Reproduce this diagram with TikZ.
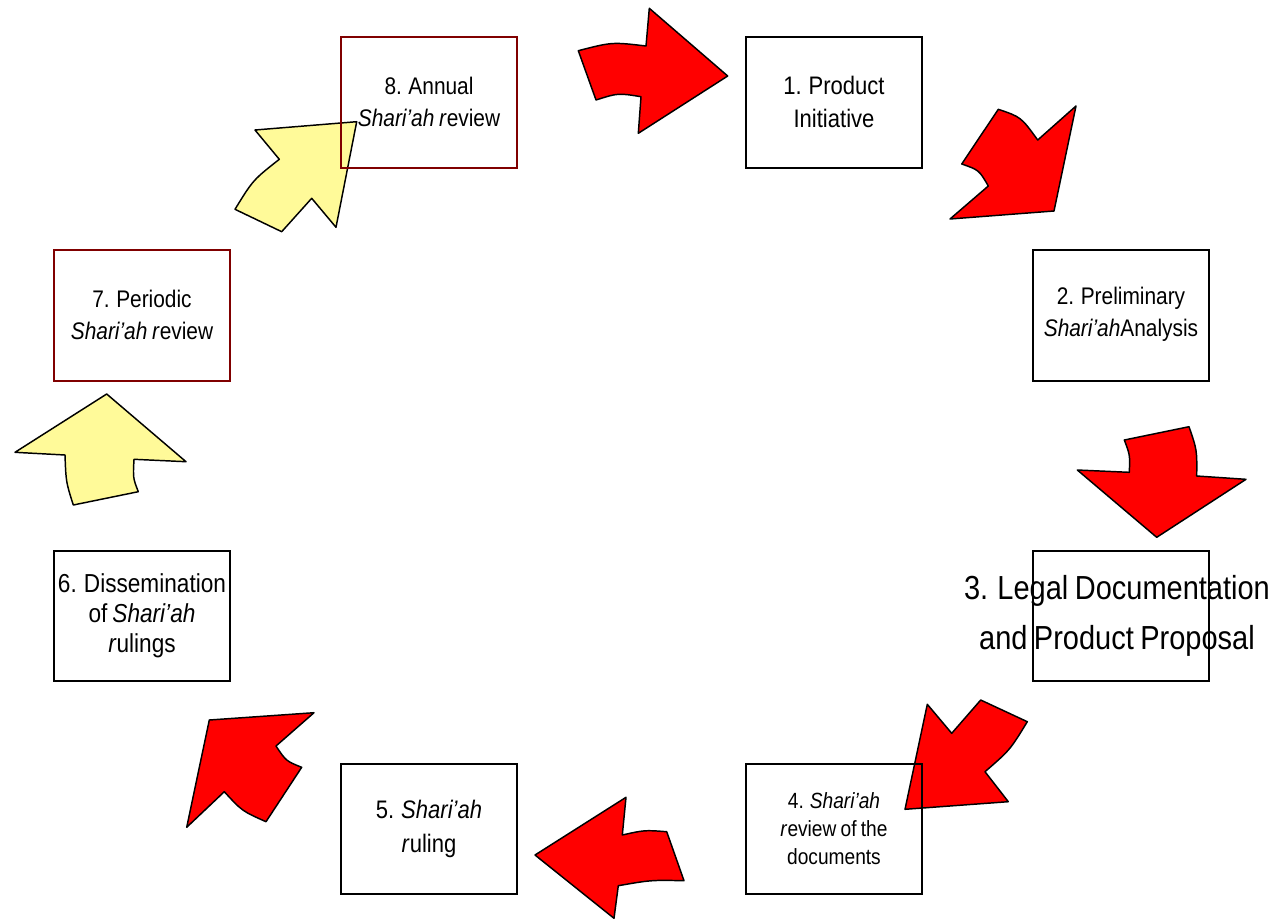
\documentclass[tikz,border=0pt]{standalone}
\usepackage{fontspec}
\setmainfont{Liberation Sans}[FakeStretch=0.87,WordSpace=0.8]
\begin{document}
\begin{tikzpicture}[x=0.75pt,y=-0.75pt,
  stepbox/.style={draw=black,line width=1pt},
  redbox/.style={draw=red!50!black,line width=1pt},
  txt/.style={align=center,font=\fontsize{18}{24}\selectfont,inner sep=0pt},
  redarrow/.style={fill=red,draw=black,line width=1.1pt,line join=round},
  yelarrow/.style={fill=yellow!40,draw=black,line width=1.1pt,line join=round}]
\useasboundingbox (0,0) rectangle (1281,921);
% arrows
% A: 8 -> 1
\draw[redarrow] (578.3,50.7) .. controls (612,42) .. (646,46) -- (649.3,8.3) -- (727.7,76)
  -- (638.3,133.3) -- (641,96.7) .. controls (618,93) .. (596,100) -- cycle;
% B: 1 -> 2
\draw[redarrow] (998.3,109.3) .. controls (1021,117) .. (1037.7,140) -- (1076,106)
  -- (1054,211) -- (950,219) -- (988.3,186) .. controls (979,170) .. (961.7,164) -- cycle;
% C: 2 -> 3
\draw[redarrow] (1124.3,440) -- (1189,426.7) .. controls (1197,450) .. (1196.7,476)
  -- (1246,479.3) -- (1156.7,537.3) -- (1077.3,470) -- (1129.3,472.3) .. controls (1130,455) .. cycle;
% D: 3 -> 4
\draw[redarrow] (927.3,704.3) -- (951.7,733.3) -- (980.7,700) -- (1027.3,721.7)
  .. controls (1010,750) .. (985,771.7) -- (1008.3,801.7) -- (905,809.3) -- cycle;
% E: 4 -> 5
\draw[redarrow] (535,855) -- (626,797.3) -- (622.3,835) .. controls (644.5,830) .. (666.7,831.7)
  -- (684,880.7) .. controls (651,880) .. (618.3,885.7) -- (614,918.3) -- cycle;
% F: 5 -> 6
\draw[redarrow] (209.3,720) -- (314,712.7) -- (276,746) .. controls (286,761) .. (301.7,767.3)
  -- (266,821.7) .. controls (242,811) .. (224.3,791.7) -- (186.7,827.3) -- cycle;
% G: 6 -> 7
\draw[yelarrow] (106.7,394) -- (186,461.7) -- (134,459.3) .. controls (133,478) .. (138.3,491.7)
  -- (73.3,505) .. controls (66,482) .. (65,455) -- (15,452.3) -- cycle;
% H: 7 -> 8
\draw[yelarrow] (356.7,121.7) -- (336,227.3) -- (311.7,198.3) -- (281.7,231.7) -- (235,209.3)
  .. controls (253,180) .. (279.3,159.3) -- (255,130) -- cycle;
% boxes
\draw[redbox]   (341,37) rectangle (517,168) coordinate[pos=.5] (b8);
\draw[stepbox]  (746,37) rectangle (922,168) coordinate[pos=.5] (b1);
\draw[stepbox]  (1033,250) rectangle (1209,381) coordinate[pos=.5] (b2);
\draw[stepbox]  (1033,551) rectangle (1209,681) coordinate[pos=.5] (b3);
\draw[stepbox]  (746,764) rectangle (922,894) coordinate[pos=.5] (b4);
\draw[stepbox]  (341,764) rectangle (517,894) coordinate[pos=.5] (b5);
\draw[stepbox]  (54,551) rectangle (230,681) coordinate[pos=.5] (b6);
\draw[redbox]   (54,250) rectangle (230,381) coordinate[pos=.5] (b7);
% texts
\node[txt] (t8) at (429,102) {8. Annual\\\textit{Shari’ah r}eview};
\node[txt,font=\fontsize{19}{25}\selectfont] (t1) at (834,102) {1. Product\\Initiative};
\node[txt] (t2) at (1121,314) {2. Preliminary\\\textit{Shari’ah}Analysis};
\node[txt,font=\fontsize{25}{37.5}\selectfont] (t3) at (1117,616) {3. Legal Documentation\\and Product Proposal};
\node[txt,font=\fontsize{16.5}{21}\selectfont] (t4) at (834,829) {4. \textit{Shari’ah}\\\textit{r}eview of the\\documents};
\node[txt,font=\fontsize{19}{25}\selectfont] (t5) at (429,829) {5. \textit{Shari’ah}\\\textit{r}uling};
\node[txt,font=\fontsize{19.5}{22.5}\selectfont] (t6) at (142,616) {6. Dissemination\\of \textit{Shari’ah}\\\textit{r}ulings};
\node[txt] (t7) at (142,315) {7. Periodic\\\textit{Shari’ah r}eview};
\end{tikzpicture}
\end{document}
